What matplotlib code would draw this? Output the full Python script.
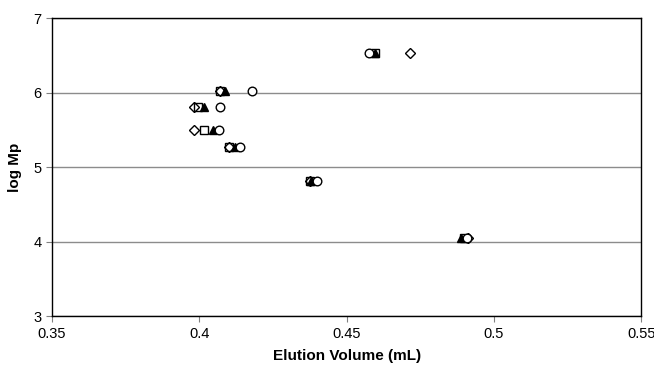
import matplotlib
matplotlib.use("Agg")
import matplotlib.pyplot as plt

log_mp = [6.53, 6.02, 5.80, 5.50, 5.27, 4.81, 4.05]
circle_x = [0.4575, 0.418, 0.407, 0.4066, 0.4139, 0.440, 0.4910]
square_x = [0.4595, 0.4071, 0.3995, 0.4015, 0.4100, 0.4375, 0.4897]
triangle_x = [0.4598, 0.4088, 0.4015, 0.4045, 0.4122, 0.4380, 0.4888]
diamond_x = [0.4714, 0.4071, 0.3981, 0.3983, 0.4100, 0.4375, 0.4912]

plt.rcParams['font.family'] = ['Liberation Sans', 'DejaVu Sans']

fig = plt.figure(figsize=(6.54, 3.68), dpi=100)
ax = fig.add_axes([0.0795, 0.141, 0.901, 0.81])

ms = 5.8
ax.plot(diamond_x, log_mp, linestyle='none', marker='D', markersize=ms*0.85,
        markerfacecolor='white', markeredgecolor='black', markeredgewidth=1.0, zorder=3)
ax.plot(square_x, log_mp, linestyle='none', marker='s', markersize=ms,
        markerfacecolor='none', markeredgecolor='black', markeredgewidth=1.0, zorder=4)
ax.plot(triangle_x, log_mp, linestyle='none', marker='^', markersize=ms+0.6,
        markerfacecolor='black', markeredgecolor='black', markeredgewidth=1.0, zorder=5)
ax.plot(circle_x, log_mp, linestyle='none', marker='o', markersize=ms+0.4,
        markerfacecolor='white', markeredgecolor='black', markeredgewidth=1.0, zorder=6)

ax.set_xlim(0.35, 0.55)
ax.set_ylim(3, 7)
ax.set_xticks([0.35, 0.4, 0.45, 0.5, 0.55])
ax.set_xticklabels(['0.35', '0.4', '0.45', '0.5', '0.55'])
ax.set_yticks([3, 4, 5, 6, 7])
ax.yaxis.grid(True, color='#8c8c8c', linewidth=1.0)
ax.set_axisbelow(True)
for s in ax.spines.values():
    s.set_color('black')
    s.set_linewidth(1.0)
ax.tick_params(axis='both', direction='out', length=4, width=0.8, colors='black',
               labelsize=10.5, color='#808080')
ax.set_xlabel('Elution Volume (mL)', fontsize=11, fontweight='bold', labelpad=6)
ax.set_ylabel('log Mp', fontsize=11, fontweight='bold', labelpad=8)

fig.savefig('out.png', dpi=100)
